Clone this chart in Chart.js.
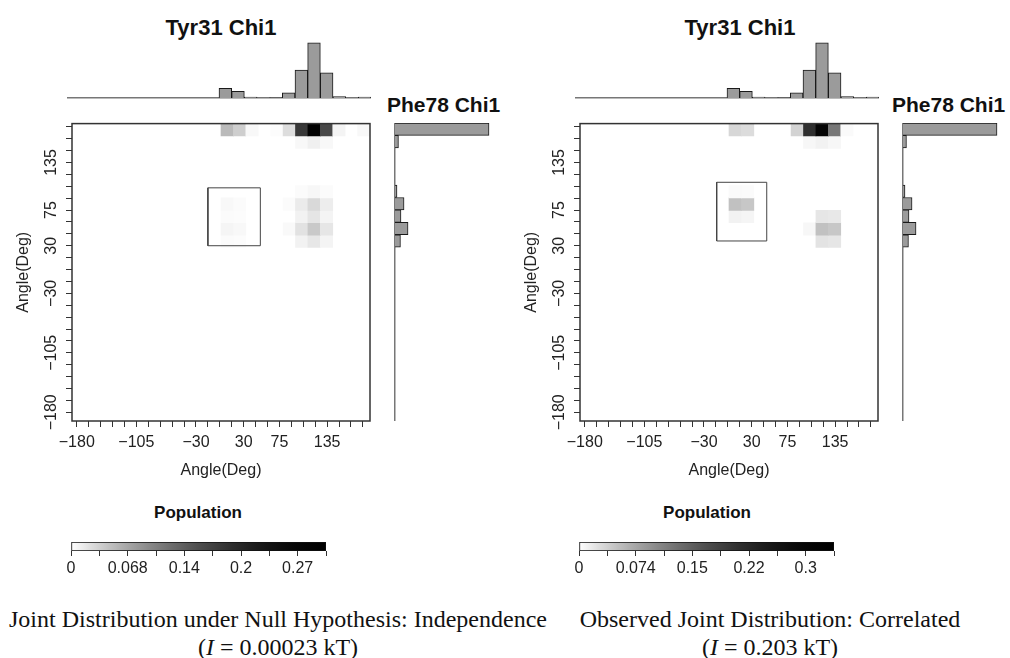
<!DOCTYPE html>
<html>
<head>
<meta charset="utf-8">
<script src="https://cdn.jsdelivr.net/npm/chart.js@4.4.0/dist/chart.umd.min.js"></script>
<style>
body { margin: 0; background: #fff; width: 1010px; height: 658px; position: relative; overflow: hidden;
       font-family: "Liberation Sans", Arial, sans-serif; color: #111; }
canvas { position: absolute; }
.t { position: absolute; white-space: nowrap; font-weight: bold; text-align: center; }
.cap { position: absolute; width: 560px; text-align: center; font-family: "Liberation Serif", "Times New Roman", serif;
       font-size: 24px; line-height: 28px; color: #111; }
</style>
</head>
<body>
<div class="t" style="left:121px;top:15px;width:200px;font-size:22px;line-height:26px">Tyr31 Chi1</div>
<div class="t" style="left:640px;top:15px;width:200px;font-size:22px;line-height:26px">Tyr31 Chi1</div>
<div class="t" style="left:387px;top:93px;font-size:21px;line-height:24px;text-align:left">Phe78 Chi1</div>
<div class="t" style="left:892px;top:93px;font-size:21px;line-height:24px;text-align:left">Phe78 Chi1</div>
<div class="t" style="left:98px;top:503px;width:200px;font-size:17px;line-height:20px">Population</div>
<div class="t" style="left:607px;top:503px;width:200px;font-size:17px;line-height:20px">Population</div>
<div class="cap" style="left:-2px;top:605px">Joint Distribution under Null Hypothesis: Independence<br>(<i>I</i> = 0.00023 kT)</div>
<div class="cap" style="left:490px;top:605px">Observed Joint Distribution: Correlated<br>(<i>I</i> = 0.203 kT)</div>

<script>
// 15 degree bins (start angle), Tyr31 Chi1 along x, Phe78 Chi1 along y
const binStarts = [-180, -165, -150, -135, -120, -105, -90, -75, -60, -45, -30, -15,
                   0, 15, 30, 45, 60, 75, 90, 105, 120, 135, 150, 165];
const angleTicks = [-180, -165, -150, -135, -120, -105, -90, -75, -60, -45, -30, -15, 0,
                    15, 30, 45, 60, 75, 90, 105, 120, 135, 150, 165, 180];
const angleTickLabels = [-180, -105, -30, 30, 75, 135];

// marginal histograms (fraction per bin, same order as binStarts)
const tyr31Hist = [0, 0, 0, 0, 0, 0, 0, 0, 0, 0, 0, 0,
                   0.073, 0.050, 0.0075, 0, 0.0023, 0.038, 0.21, 0.413, 0.188, 0.011, 0, 0.0075];
const phe78Hist = [0, 0, 0, 0, 0, 0, 0, 0, 0, 0, 0, 0, 0, 0,
                   0.041, 0.098, 0.045, 0.068, 0.015, 0, 0, 0, 0.026, 0.707];

// joint populations: [tyr31 bin start, phe78 bin start, population]
const cellsNull = [
  [0, 165, 0.052], [15, 165, 0.036], [30, 165, 0.005], [60, 165, 0.002], [75, 165, 0.025],
  [90, 165, 0.18], [105, 165, 0.29], [120, 165, 0.16], [135, 165, 0.008], [165, 165, 0.005],
  [90, 150, 0.005], [105, 150, 0.011], [120, 150, 0.005],
  [90, 90, 0.003], [105, 90, 0.006], [120, 90, 0.003],
  [0, 75, 0.005], [15, 75, 0.003], [75, 75, 0.003], [90, 75, 0.014], [105, 75, 0.028], [120, 75, 0.013],
  [0, 60, 0.003], [15, 60, 0.002], [90, 60, 0.009], [105, 60, 0.019], [120, 60, 0.008],
  [0, 45, 0.007], [15, 45, 0.005], [75, 45, 0.004], [90, 45, 0.021], [105, 45, 0.040], [120, 45, 0.018],
  [0, 30, 0.003], [15, 30, 0.002], [90, 30, 0.009], [105, 30, 0.017], [120, 30, 0.008]
];
const cellsObserved = [
  [0, 165, 0.032], [15, 165, 0.028], [75, 165, 0.035], [90, 165, 0.21], [105, 165, 0.30],
  [120, 165, 0.12], [135, 165, 0.004],
  [90, 150, 0.006], [105, 150, 0.010], [120, 150, 0.006],
  [0, 90, 0.004], [15, 90, 0.003],
  [0, 75, 0.050], [15, 75, 0.045],
  [0, 60, 0.010], [15, 60, 0.008], [105, 60, 0.020], [120, 60, 0.018],
  [90, 45, 0.006], [105, 45, 0.050], [120, 45, 0.045],
  [105, 30, 0.022], [120, 30, 0.020]
];

// highlighted region [xmin, xmax, ymin, ymax] in degrees
const boxNull = [-15, 51, 30, 103];
const boxObserved = [-14, 49, 36, 110];

// colour bar ticks
const cbTicksNull = [0, 0.034, 0.068, 0.102, 0.136, 0.170, 0.204, 0.238, 0.272, 0.306];
const cbLabelsNull = ['0', '', '0.068', '', '0.14', '', '0.2', '', '0.27', ''];
const cbTicksObserved = [0, 0.037, 0.074, 0.111, 0.148, 0.185, 0.222, 0.259, 0.296, 0.333];
const cbLabelsObserved = ['0', '', '0.074', '', '0.15', '', '0.22', '', '0.3', ''];

Chart.defaults.font.family = '"Liberation Sans", Arial, sans-serif';
Chart.defaults.color = '#222';

// white -> black grey ramp
function grey(t) {
    const g = Math.round(255 * Math.pow(1 - Math.max(0, Math.min(t, 1)), 1.7));
    return `rgb(${g},${g},${g})`;
}

function addCanvas(left, top, w, h) {
    const c = document.createElement('canvas');
    c.width = w; c.height = h;
    c.style.left = left + 'px'; c.style.top = top + 'px';
    document.body.appendChild(c);
    return c;
}

const frame = {
    id: 'frame',
    afterDatasetsDraw(chart) {
        const { ctx, chartArea: a } = chart;
        ctx.save();
        ctx.strokeStyle = '#333';
        ctx.lineWidth = 1.5;
        ctx.strokeRect(a.left, a.top, a.right - a.left, a.bottom - a.top);
        ctx.restore();
    }
};

const angleText = v => angleTickLabels.includes(v) ? String(v).replace('-', '\u2212') : '';

function cellDatasets(cells, vmax) {
    const rows = [...new Set(cells.map(c => c[1]))];
    return rows.map(r => {
        const data = binStarts.map(() => null);
        const colors = binStarts.map(() => 'rgba(0,0,0,0)');
        cells.filter(c => c[1] === r).forEach(([x, y, v]) => {
            const i = binStarts.indexOf(x);
            data[i] = [y, y + 15];
            colors[i] = grey(v / vmax);
        });
        return {
            type: 'bar', data: data, backgroundColor: colors, borderWidth: 0,
            xAxisID: 'x', yAxisID: 'y', grouped: false, barPercentage: 1, categoryPercentage: 1
        };
    });
}

function drawPanel(px, cells, box, cbTicks, cbLabels) {
    const cbMax = cbTicks[cbTicks.length - 1];

    // joint distribution
    const boxLine = {
        type: 'line', xAxisID: 'xt', yAxisID: 'yt',
        data: [{ x: box[0], y: box[2] }, { x: box[1], y: box[2] }, { x: box[1], y: box[3] },
               { x: box[0], y: box[3] }, { x: box[0], y: box[2] }],
        borderColor: '#444', borderWidth: 1, pointRadius: 0, tension: 0, fill: false
    };
    new Chart(addCanvas(px, 118, 376, 362), {
        type: 'bar',
        data: { datasets: [boxLine].concat(cellDatasets(cells, cbMax)) },
        options: {
            responsive: false, animation: false,
            layout: { padding: { top: 5, right: 6, left: 0, bottom: 0 } },
            plugins: { legend: { display: false }, tooltip: { enabled: false } },
            scales: {
                x: { type: 'category', labels: binStarts, display: false, offset: true },
                y: { type: 'linear', min: -180, max: 180, display: false },
                xt: {
                    type: 'linear', position: 'bottom', min: -186, max: 189, offset: false,
                    grid: { offset: false, drawOnChartArea: false, tickLength: 6, color: '#333' },
                    border: { display: false },
                    ticks: { autoSkip: false, maxRotation: 0, padding: 6, font: { size: 16 }, callback: angleText },
                    afterBuildTicks: s => { s.ticks = angleTicks.map(v => ({ value: v })); },
                    afterFit: s => { s.height = 59; },
                    title: { display: true, text: 'Angle(Deg)', font: { size: 16 }, padding: 0 }
                },
                yt: {
                    type: 'linear', position: 'left', min: -191, max: 184,
                    grid: { drawOnChartArea: false, tickLength: 6, color: '#333' },
                    border: { display: false },
                    ticks: { autoSkip: false, minRotation: 90, maxRotation: 90, crossAlign: 'center',
                             padding: -4, font: { size: 16 }, callback: angleText },
                    afterBuildTicks: s => { s.ticks = angleTicks.map(v => ({ value: v })); },
                    afterFit: s => { s.width = 72; },
                    title: { display: true, text: 'Angle(Deg)', font: { size: 16 }, padding: { top: 14 } }
                }
            }
        },
        plugins: [frame]
    });

    // Tyr31 marginal on top
    new Chart(addCanvas(px + 67, 38, 304, 62), {
        type: 'bar',
        data: { labels: binStarts, datasets: [{
            data: tyr31Hist, backgroundColor: '#9b9b9b', borderColor: '#1a1a1a', borderWidth: 1,
            barPercentage: 1, categoryPercentage: 1 }] },
        options: {
            responsive: false, animation: false,
            layout: { padding: { bottom: 2 } },
            plugins: { legend: { display: false }, tooltip: { enabled: false } },
            scales: {
                x: { grid: { display: false }, ticks: { display: false }, border: { color: '#777', width: 1.5 },
                     afterFit: s => { s.height = 0; } },
                y: { display: false, min: 0, max: 0.45 }
            }
        }
    });

    // Phe78 marginal on the right
    new Chart(addCanvas(px + 393, 123, 102, 298), {
        type: 'bar',
        data: { labels: binStarts, datasets: [{
            data: phe78Hist, backgroundColor: '#9b9b9b', borderColor: '#1a1a1a', borderWidth: 1,
            barPercentage: 1, categoryPercentage: 1 }] },
        options: {
            indexAxis: 'y', responsive: false, animation: false,
            layout: { padding: { left: 2 } },
            plugins: { legend: { display: false }, tooltip: { enabled: false } },
            scales: {
                y: { reverse: true, grid: { display: false }, ticks: { display: false },
                     border: { color: '#777', width: 1.5 }, afterFit: s => { s.width = 0; } },
                x: { display: false, min: 0, max: 0.752 }
            }
        }
    });

    // colour bar
    new Chart(addCanvas(px + 40, 536, 320, 50), {
        type: 'bar',
        data: { labels: ['Population'], datasets: [{
            data: [cbMax],
            backgroundColor: c => {
                const a = c.chart.chartArea;
                if (!a) return '#888';
                const g = c.chart.ctx.createLinearGradient(a.left, 0, a.right, 0);
                for (let k = 0; k <= 40; k++) g.addColorStop(k / 40, grey(k / 40));
                return g;
            },
            borderColor: '#111', borderWidth: 1, borderSkipped: false,
            barPercentage: 1, categoryPercentage: 1 }] },
        options: {
            indexAxis: 'y', responsive: false, animation: false,
            layout: { padding: { left: 31, right: 34, top: 6 } },
            plugins: { legend: { display: false }, tooltip: { enabled: false } },
            scales: {
                y: { display: false },
                x: {
                    min: 0, max: cbMax,
                    grid: { drawOnChartArea: false, tickLength: 5, color: '#333' },
                    border: { display: false },
                    ticks: { autoSkip: false, maxRotation: 0, padding: 3, font: { size: 16 },
                             callback: (v, i) => cbLabels[i] },
                    afterBuildTicks: s => { s.ticks = cbTicks.map(v => ({ value: v })); },
                    afterFit: s => { s.height = 35; }
                }
            }
        }
    });
}

drawPanel(0, cellsNull, boxNull, cbTicksNull, cbLabelsNull);
drawPanel(508, cellsObserved, boxObserved, cbTicksObserved, cbLabelsObserved);
</script>
</body>
</html>
